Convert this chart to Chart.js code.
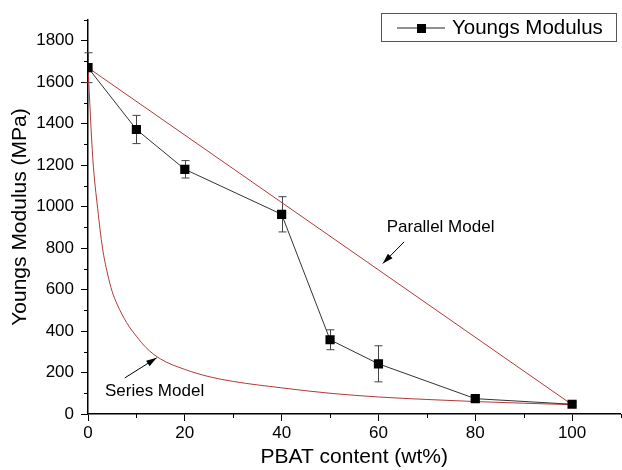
<!DOCTYPE html>
<html>
<head>
<meta charset="utf-8">
<script src="https://cdn.jsdelivr.net/npm/chart.js@4"></script>
<style>
  body { margin: 0; background: #fff; overflow: hidden; }
  #wrap { width: 622px; height: 470px; overflow: hidden; }
</style>
</head>
<body>
<div id="wrap"><canvas id="modChart" width="627" height="470"></canvas></div>
<script>
// measured blend data
const pbatContent = [0, 10, 20, 40, 50, 60, 80, 100];
const youngsModulus = [1670, 1372, 1180, 963, 358, 242, 74, 47];
const modulusError = [72, 68, 42, 85, 48, 87, 12, 8];

// model curves
const parallelX = [0, 100];
const parallelY = [1670, 45];
const seriesX = [0, 1, 2, 3, 4, 5, 6, 8, 10, 12, 15, 20, 25, 30, 40, 50, 60, 70, 80, 90, 100];
const seriesY = [1670, 1230, 990, 800, 680, 590, 530, 440, 375, 320, 265, 215, 180, 157, 126, 100, 82, 70, 60, 52, 45];

const xTicks = [0, 20, 40, 60, 80, 100];
const yTicks = [0, 200, 400, 600, 800, 1000, 1200, 1400, 1600, 1800];

const RED = '#b03a3a';
const FONT = 'Liberation Sans, Arial, sans-serif';

const pts = (xs, ys) => xs.map((x, i) => ({ x, y: ys[i] }));

function arrow(ctx, x1, y1, x2, y2) {
  const a = Math.atan2(y2 - y1, x2 - x1);
  ctx.beginPath();
  ctx.moveTo(x1, y1);
  ctx.lineTo(x2, y2);
  ctx.stroke();
  ctx.beginPath();
  ctx.moveTo(x2, y2);
  ctx.lineTo(x2 - 11 * Math.cos(a - 0.3), y2 - 11 * Math.sin(a - 0.3));
  ctx.lineTo(x2 - 11 * Math.cos(a + 0.3), y2 - 11 * Math.sin(a + 0.3));
  ctx.closePath();
  ctx.fill();
}

const extras = {
  id: 'extras',
  beforeDatasetsDraw(chart) {
    const { ctx, scales: { x, y } } = chart;
    ctx.save();
    ctx.strokeStyle = '#444';
    ctx.lineWidth = 1;
    pbatContent.forEach((v, i) => {
      const px = Math.round(x.getPixelForValue(v)) + 0.5;
      const top = y.getPixelForValue(youngsModulus[i] + modulusError[i]);
      const bot = y.getPixelForValue(youngsModulus[i] - modulusError[i]);
      ctx.beginPath();
      ctx.moveTo(px, top); ctx.lineTo(px, bot);
      ctx.moveTo(px - 4, top); ctx.lineTo(px + 4, top);
      ctx.moveTo(px - 4, bot); ctx.lineTo(px + 4, bot);
      ctx.stroke();
    });
    ctx.restore();
  },
  afterDraw(chart) {
    const { ctx, scales: { x, y } } = chart;
    ctx.save();
    // minor ticks
    ctx.strokeStyle = '#000';
    ctx.lineWidth = 1;
    for (let v = 100; v <= 1900; v += 200) {
      const py = Math.round(y.getPixelForValue(v)) + 0.5;
      ctx.beginPath(); ctx.moveTo(x.left - 4, py); ctx.lineTo(x.left, py); ctx.stroke();
    }
    for (let v = 10; v <= 110; v += 20) {
      const px = Math.round(x.getPixelForValue(v)) + 0.5;
      ctx.beginPath(); ctx.moveTo(px, y.bottom); ctx.lineTo(px, y.bottom + 4); ctx.stroke();
    }

    // annotations
    ctx.fillStyle = '#000';
    ctx.font = '17px ' + FONT;
    ctx.textBaseline = 'middle';
    ctx.textAlign = 'left';
    ctx.fillText('Parallel Model', x.getPixelForValue(61.7), y.getPixelForValue(900));
    ctx.fillText('Series Model', x.getPixelForValue(3.5), y.getPixelForValue(111));
    arrow(ctx, x.getPixelForValue(65.3), y.getPixelForValue(830),
               x.getPixelForValue(60.9), y.getPixelForValue(726));
    arrow(ctx, x.getPixelForValue(7.6), y.getPixelForValue(174),
               x.getPixelForValue(14.2), y.getPixelForValue(271));

    // legend box
    ctx.strokeStyle = '#555';
    ctx.strokeRect(381.5, 13.5, 235, 28);
    ctx.strokeStyle = '#222';
    ctx.beginPath(); ctx.moveTo(397, 28); ctx.lineTo(445, 28); ctx.stroke();
    ctx.fillStyle = '#000';
    ctx.fillRect(417, 24, 9, 9);
    ctx.font = '20.5px ' + FONT;
    ctx.fillText('Youngs Modulus', 452, 28);
    ctx.restore();
  }
};

new Chart(document.getElementById('modChart'), {
  type: 'line',
  data: {
    datasets: [
      {
        label: 'Youngs Modulus',
        data: pts(pbatContent, youngsModulus),
        borderColor: '#333',
        borderWidth: 1,
        backgroundColor: '#000',
        pointStyle: 'rect',
        pointRadius: 6.5,
        pointBorderWidth: 0,
        order: 0
      },
      {
        label: 'Parallel Model',
        data: pts(parallelX, parallelY),
        borderColor: RED,
        borderWidth: 1,
        pointRadius: 0,
        order: 1
      },
      {
        label: 'Series Model',
        data: pts(seriesX, seriesY),
        borderColor: RED,
        borderWidth: 1,
        pointRadius: 0,
        cubicInterpolationMode: 'monotone',
        order: 2
      }
    ]
  },
  options: {
    responsive: false,
    animation: false,
    layout: { padding: { top: 20, right: 0, left: 0, bottom: 0 } },
    plugins: { legend: { display: false }, tooltip: { enabled: false } },
    scales: {
      x: {
        type: 'linear',
        min: 0, max: 110,
        afterFit: s => { s.height = 56; s.paddingRight = 0; s.paddingLeft = 0; },
        afterBuildTicks: s => { s.ticks = xTicks.concat([110]).map(v => ({ value: v })); },
        border: { color: '#000', width: 1.5 },
        grid: { drawOnChartArea: false, tickLength: 7, tickColor: c => c.tick && c.tick.value === 110 ? 'transparent' : '#000' },
        ticks: {
          color: '#000', padding: 2, autoSkip: false, maxRotation: 0,
          font: { family: FONT, size: 17 },
          callback: v => xTicks.includes(v) ? String(v) : ''
        },
        title: { display: true, text: 'PBAT content (wt%)', color: '#000', font: { family: FONT, size: 21 }, padding: { top: -4, bottom: 0 } }
      },
      y: {
        min: 0, max: 1900,
        afterFit: s => { s.width = 88; s.paddingTop = 0; s.paddingBottom = 0; },
        afterBuildTicks: s => { s.ticks = yTicks.map(v => ({ value: v })); },
        border: { color: '#000', width: 1.5 },
        grid: { drawOnChartArea: false, tickLength: 7, tickColor: '#000' },
        ticks: {
          color: '#000', padding: 7, autoSkip: false,
          font: { family: FONT, size: 17 },
          callback: v => String(v)
        },
        title: { display: true, text: 'Youngs Modulus (MPa)', color: '#000', font: { family: FONT, size: 21 }, padding: { top: 8, bottom: 0 } }
      }
    }
  },
  plugins: [extras]
});
</script>
</body>
</html>
